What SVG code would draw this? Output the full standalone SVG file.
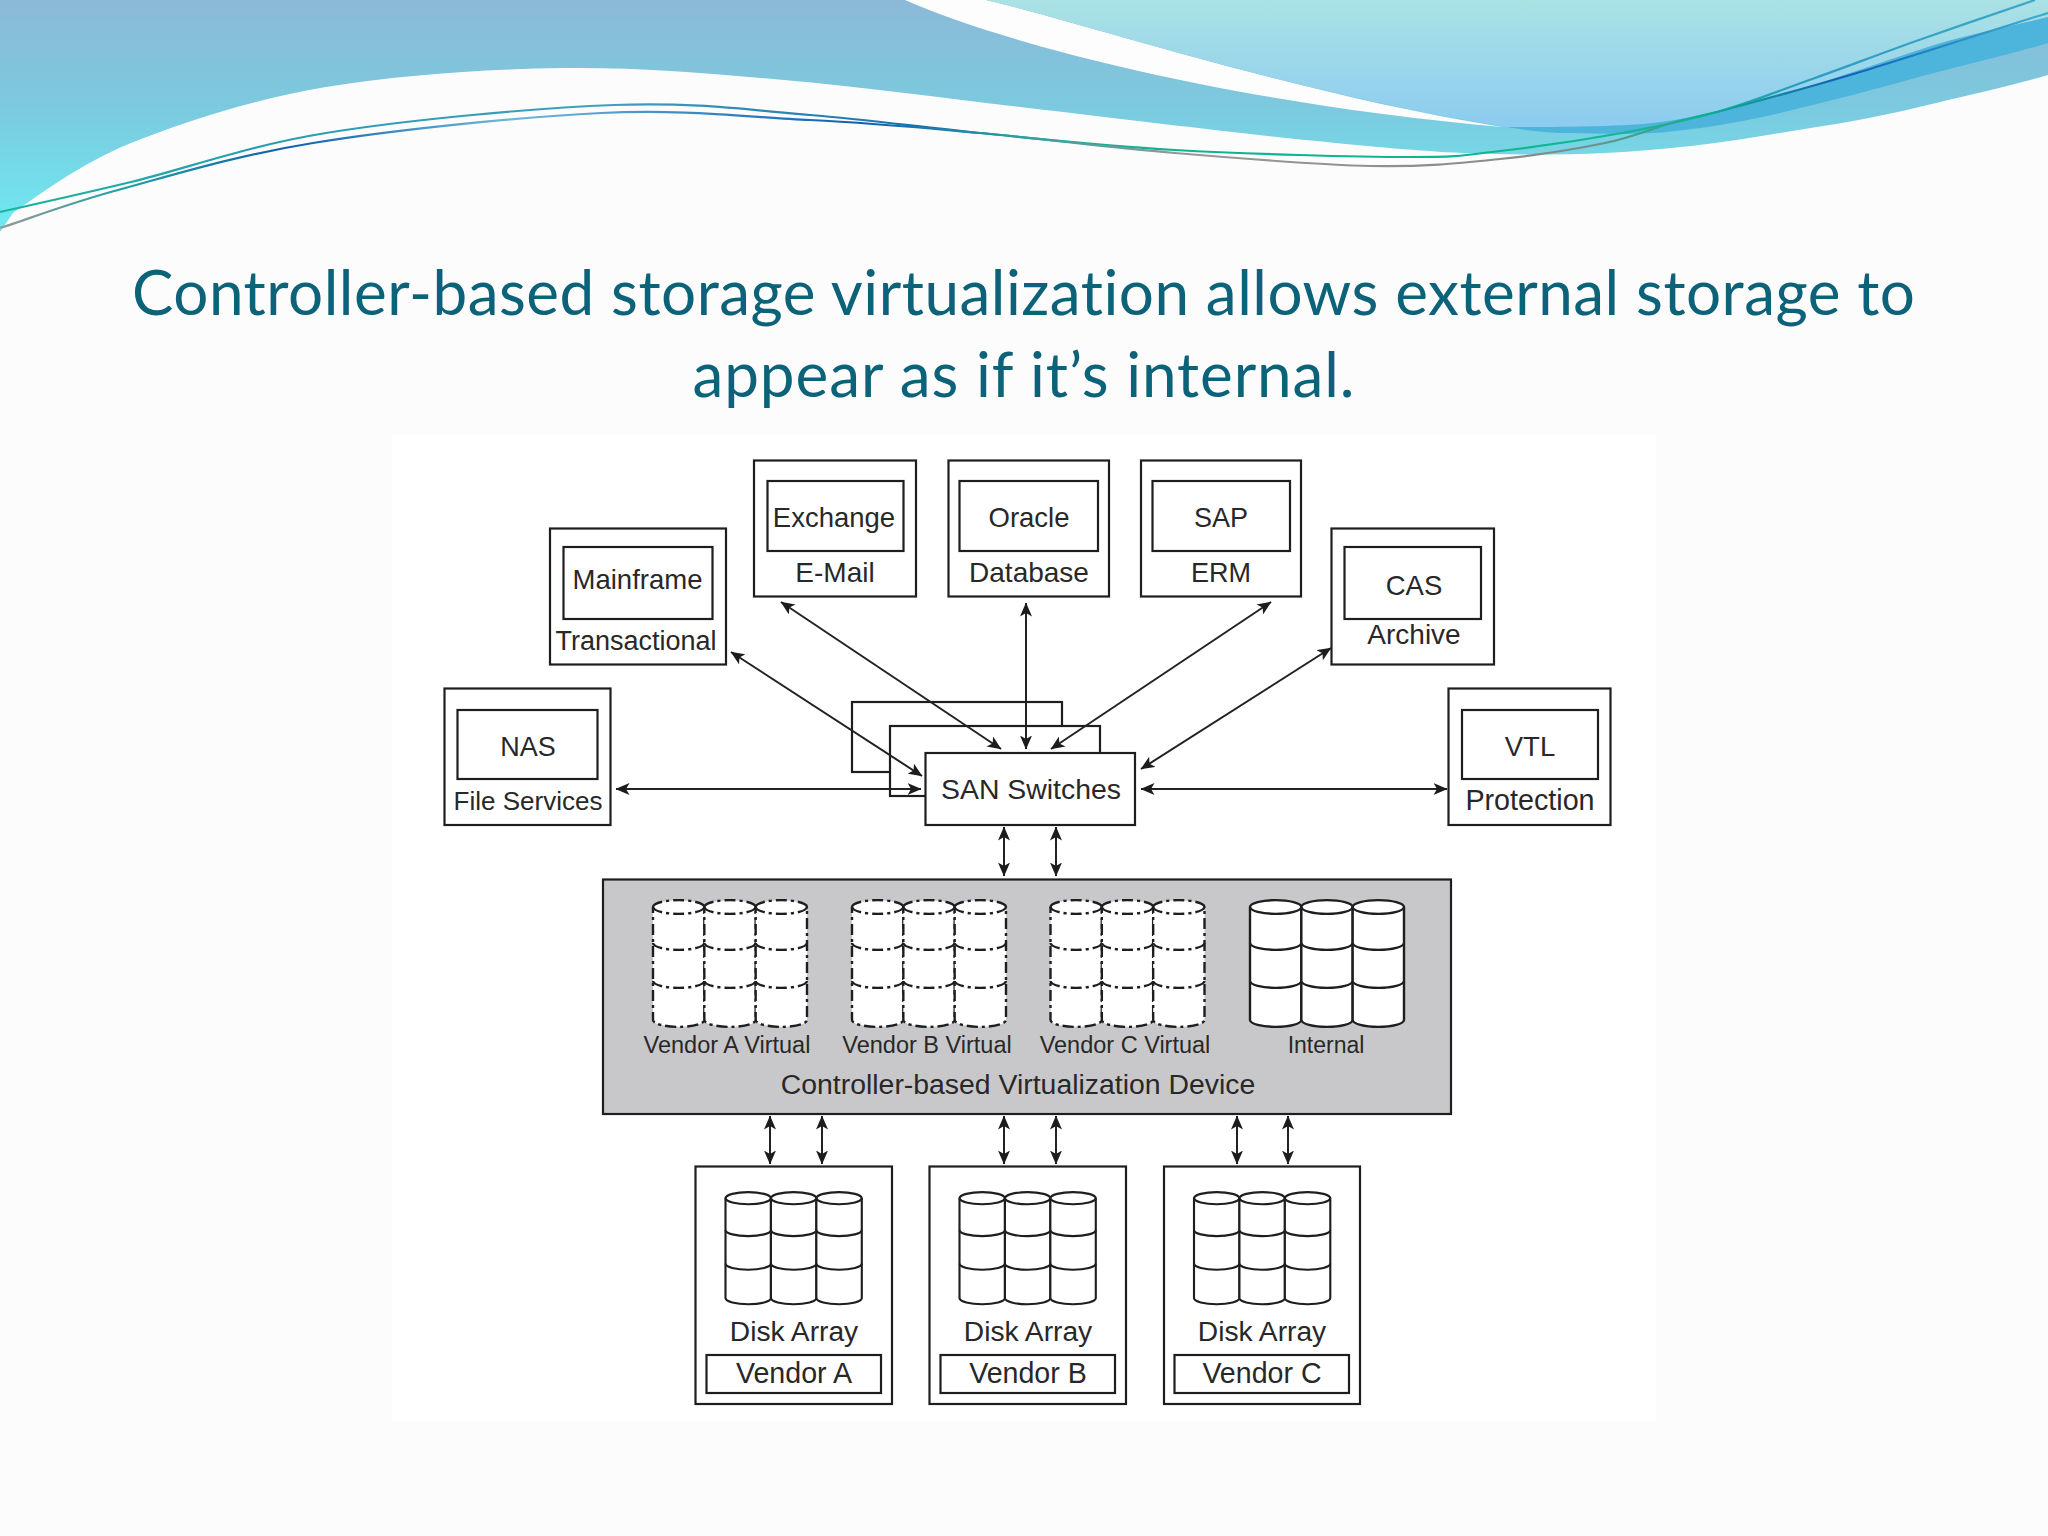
<svg xmlns="http://www.w3.org/2000/svg" xmlns:xlink="http://www.w3.org/1999/xlink" width="2048" height="1536" viewBox="0 0 2048 1536">
<defs>
<linearGradient id="gMain" gradientUnits="userSpaceOnUse" x1="0" y1="0" x2="0" y2="232"><stop offset="0" stop-color="#8cb9d8"/><stop offset="0.45" stop-color="#7cc9de"/><stop offset="1" stop-color="#6eeaf2"/></linearGradient>
<linearGradient id="gLight" gradientUnits="userSpaceOnUse" x1="0" y1="0" x2="0" y2="130"><stop offset="0" stop-color="#aae2e4"/><stop offset="1" stop-color="#8ccbf0"/></linearGradient>
<linearGradient id="gA" gradientUnits="userSpaceOnUse" x1="0" y1="0" x2="2048" y2="0"><stop offset="0" stop-color="#14b89a"/><stop offset="0.12" stop-color="#2a9cb0"/><stop offset="0.3" stop-color="#3fa0bd"/><stop offset="0.45" stop-color="#1a70a8"/><stop offset="0.52" stop-color="#10b090"/><stop offset="0.82" stop-color="#10b890"/><stop offset="0.88" stop-color="#2a9cc0"/><stop offset="1" stop-color="#40a8c8"/></linearGradient>
<linearGradient id="gB" gradientUnits="userSpaceOnUse" x1="0" y1="0" x2="2048" y2="0"><stop offset="0" stop-color="#999"/><stop offset="0.06" stop-color="#20a0a0"/><stop offset="0.14" stop-color="#1060b0"/><stop offset="0.25" stop-color="#70b8d8"/><stop offset="0.42" stop-color="#0f5fb0"/><stop offset="0.5" stop-color="#30a0a0"/><stop offset="0.58" stop-color="#999"/><stop offset="0.76" stop-color="#888"/><stop offset="0.83" stop-color="#10b090"/><stop offset="0.9" stop-color="#1060b8"/><stop offset="1" stop-color="#40b0d0"/></linearGradient>
<marker id="arr" viewBox="0 0 14 12" refX="13.5" refY="6" markerWidth="14" markerHeight="12" markerUnits="userSpaceOnUse" orient="auto-start-reverse"><path d="M0,0 L14,6 L0,12 L3.5,6 Z" fill="#1c1c1c"/></marker>
<g id="stackCol">
<path class="cbody" d="M0,7 A25.67,7 0 0 1 51.33,7 V120 A25.67,7 0 0 1 0,120 Z"/>
<path class="cline" d="M0,7 A25.67,7 0 0 0 51.33,7 M0,43 A25.67,7 0 0 0 51.33,43 M0,81 A25.67,7 0 0 0 51.33,81"/>
</g>
<g id="stack">
<use xlink:href="#stackCol" href="#stackCol"/>
<use xlink:href="#stackCol" href="#stackCol" x="51.33"/>
<use xlink:href="#stackCol" href="#stackCol" x="102.67"/>
</g>
</defs>
<style>
.box{fill:#fff;stroke:#1e1e1e;stroke-width:2.2}
.t{font-family:"Liberation Sans",Arial,sans-serif;font-size:28px;fill:#282828;text-anchor:middle}
.s{font-size:23.500px}
.title{font-family:Lato,"Noto Sans",sans-serif;font-size:62px;fill:#0c6278;text-anchor:middle;font-variant-ligatures:none}
.cbody{fill:#fff;stroke:#1e1e1e;stroke-width:2.4}
.cline{fill:none;stroke:#1e1e1e;stroke-width:2.4}
.dash{stroke-dasharray:11 4 3 4}
.conn{fill:none;stroke:#222;stroke-width:2;marker-start:url(#arr);marker-end:url(#arr)}
</style>

<rect width="2048" height="1536" fill="#fcfcfd"/>
<rect x="392" y="435" width="1264" height="986" fill="#fff"/>

<g id="swoosh">
<path fill="url(#gMain)" d="M0,232 L13,213 C35,198 79,164 131,143 C183,122 254,99 326,87 C398,75 486,69 562,68 C638,67 704,73 784,80 C864,87 958,100 1045,110 C1132,120 1236,133 1306,140 C1376,147 1419,151 1463,153 C1510,155 1560,155 1605,153 C1665,150 1722,143 1780,133 C1830,125 1875,118 1919,107 C1965,96 2015,85 2048,75 V0 H0 Z"/>
<path fill="#fdfdfe" d="M905,0 C1020,50 1250,105 1502,127 C1300,95 1080,22 986,0 Z"/>
<path fill="url(#gLight)" d="M986,0 C1080,22 1300,95 1507,127 C1540,127 1570,127 1605,126 C1630,125 1650,124 1675,120 C1712,114 1745,105 1780,95 C1826,82 1873,65 1919,50 C1963,35 2005,28 2048,17 V0 Z"/>
<path fill="#4db4dc" d="M1507,127 C1530,131 1550,133 1570,133 C1610,134 1645,135 1675,131 C1712,127 1745,121 1780,113 C1826,102 1873,90 1919,77 C1963,65 2005,56 2048,43 V17 C2005,28 1963,35 1919,50 C1873,65 1826,82 1780,95 C1745,105 1712,114 1675,120 C1650,124 1630,125 1605,126 C1570,127 1540,127 1507,127 Z"/>
<path fill="none" stroke="url(#gA)" stroke-width="2.2" d="M0,212 C22,207 77,195 131,182 C185,169 246,146 326,133 C406,120 533,108 614,105 C695,102 749,110 810,115 C871,120 919,127 980,133 C1041,139 1103,146 1175,150 C1247,154 1356,157 1410,157 C1464,157 1465,155 1500,151 C1535,147 1586,139.500 1622,133 C1658,126.500 1685,121 1717,112 C1749,103 1781,90 1815,78 C1849,66 1882,53 1919,40 C1956,27 2014,7 2035,0"/>
<path fill="none" stroke="url(#gB)" stroke-width="2.2" d="M0,228 C20,222 66,204 118,190 C170,176 233,156 313,143 C393,130 518,117 601,113 C684,109 747,117 810,120 C873,123 919,127.500 980,133 C1041,138.500 1110,147.500 1175,153 C1240,158.500 1317,165 1371,166 C1425,167 1461,163 1500,159 C1539,155 1576,149 1605,143 C1634,137 1656,127 1675,122 C1689,118.500 1703,115 1717,112 C1746,104 1795,91.500 1850,75 C1905,58.500 2015,23 2048,13"/>
</g>

<g id="title">
<text class="title" x="1023.500" y="315" textLength="1783" lengthAdjust="spacing">Controller-based storage virtualization allows external storage to</text>
<text class="title" x="1023.500" y="397" textLength="662" lengthAdjust="spacing">appear as if it’s internal.</text>
</g>

<g id="node-san">
<rect class="box" x="852" y="702" width="210" height="70"/>
<rect class="box" x="890" y="726" width="210" height="70"/>
<rect class="box" x="925.500" y="753" width="209.500" height="72"/>
<text class="t" x="1031" y="799" style="font-size:28.400px">SAN Switches</text>
</g>

<g id="connectors">
<path class="conn" d="M616,789 H921"/>
<path class="conn" d="M1141,789 H1447"/>
<path class="conn" d="M731,652 L922,776"/>
<path class="conn" d="M781,602 L1001,749"/>
<path class="conn" d="M1026,603 V749"/>
<path class="conn" d="M1271,602 L1051,749"/>
<path class="conn" d="M1331,648 L1141,769"/>
<path class="conn" d="M1004,827 V876"/>
<path class="conn" d="M1056,827 V876"/>
<path class="conn" d="M770,1116 V1164"/>
<path class="conn" d="M822,1116 V1164"/>
<path class="conn" d="M1004,1116 V1164"/>
<path class="conn" d="M1056,1116 V1164"/>
<path class="conn" d="M1237,1116 V1164"/>
<path class="conn" d="M1288,1116 V1164"/>
</g>

<g id="node-nas">
<rect class="box" x="444.500" y="688.500" width="166" height="136.500"/>
<rect class="box" x="457.500" y="710" width="140" height="69"/>
<text class="t" x="528" y="756" style="font-size:27px">NAS</text>
<text class="t" x="528" y="810" style="font-size:26px">File Services</text>
</g>
<g id="node-mainframe">
<rect class="box" x="550" y="528.500" width="176" height="136"/>
<rect class="box" x="563.500" y="547" width="149" height="72"/>
<text class="t" x="637.500" y="589" style="font-size:27.500px">Mainframe</text>
<text class="t" x="636" y="650" style="font-size:27px">Transactional</text>
</g>
<g id="node-exchange">
<rect class="box" x="754" y="460.500" width="162" height="136"/>
<rect class="box" x="767.500" y="481" width="136" height="70"/>
<text class="t" x="834" y="527" style="font-size:27.500px">Exchange</text>
<text class="t" x="835" y="582">E-Mail</text>
</g>
<g id="node-oracle">
<rect class="box" x="948.500" y="460.500" width="160.500" height="136"/>
<rect class="box" x="959.500" y="481" width="138.500" height="70"/>
<text class="t" x="1029" y="527" style="font-size:27.500px">Oracle</text>
<text class="t" x="1029" y="582">Database</text>
</g>
<g id="node-sap">
<rect class="box" x="1141" y="460.500" width="160" height="136"/>
<rect class="box" x="1152.500" y="481" width="137.500" height="70"/>
<text class="t" x="1221" y="527" style="font-size:27px">SAP</text>
<text class="t" x="1221" y="582" style="font-size:27px">ERM</text>
</g>
<g id="node-cas">
<rect class="box" x="1331.500" y="528.500" width="162.500" height="136"/>
<rect class="box" x="1344.500" y="547" width="136.500" height="72"/>
<text class="t" x="1414" y="595" style="font-size:27.500px">CAS</text>
<text class="t" x="1414" y="644">Archive</text>
</g>
<g id="node-vtl">
<rect class="box" x="1448.500" y="688.500" width="162" height="136.500"/>
<rect class="box" x="1462" y="710" width="136" height="69"/>
<text class="t" x="1530" y="756" style="font-size:27.500px">VTL</text>
<text class="t" x="1530" y="810" style="font-size:28.700px">Protection</text>
</g>

<g id="node-device">
<rect x="603" y="879.500" width="848" height="234.500" fill="#c8c8ca" stroke="#1e1e1e" stroke-width="2.2"/>
<g class="dash"><use xlink:href="#stack" href="#stack" x="653" y="900"/></g>
<g class="dash"><use xlink:href="#stack" href="#stack" x="852" y="900"/></g>
<g class="dash"><use xlink:href="#stack" href="#stack" x="1050.500" y="900"/></g>
<use xlink:href="#stack" href="#stack" x="1250" y="900"/>
<text class="t s" x="727" y="1053">Vendor A Virtual</text>
<text class="t s" x="927" y="1053">Vendor B Virtual</text>
<text class="t s" x="1125" y="1053">Vendor C Virtual</text>
<text class="t" x="1326" y="1053" style="font-size:23px">Internal</text>
<text class="t" x="1018" y="1094" style="font-size:28.400px">Controller-based Virtualization Device</text>
</g>

<g id="node-array-a">
<rect class="box" x="695.500" y="1166.500" width="196.500" height="237.500"/>
<use xlink:href="#stack" href="#stack" transform="translate(725.500,1192) scale(.885)"/>
<text class="t" x="794" y="1341" style="font-size:28.200px">Disk Array</text>
<rect class="box" x="706.500" y="1355" width="174.500" height="38"/>
<text class="t" x="794" y="1383" style="font-size:28.600px">Vendor A</text>
</g>
<g id="node-array-b">
<rect class="box" x="929.500" y="1166.500" width="196.500" height="237.500"/>
<use xlink:href="#stack" href="#stack" transform="translate(959.500,1192) scale(.885)"/>
<text class="t" x="1028" y="1341" style="font-size:28.200px">Disk Array</text>
<rect class="box" x="940.500" y="1355" width="174.500" height="38"/>
<text class="t" x="1028" y="1383" style="font-size:28.600px">Vendor B</text>
</g>
<g id="node-array-c">
<rect class="box" x="1164" y="1166.500" width="196" height="237.500"/>
<use xlink:href="#stack" href="#stack" transform="translate(1194,1192) scale(.885)"/>
<text class="t" x="1262" y="1341" style="font-size:28.200px">Disk Array</text>
<rect class="box" x="1174.500" y="1355" width="174.500" height="38"/>
<text class="t" x="1262" y="1383" style="font-size:28.600px">Vendor C</text>
</g>
</svg>
